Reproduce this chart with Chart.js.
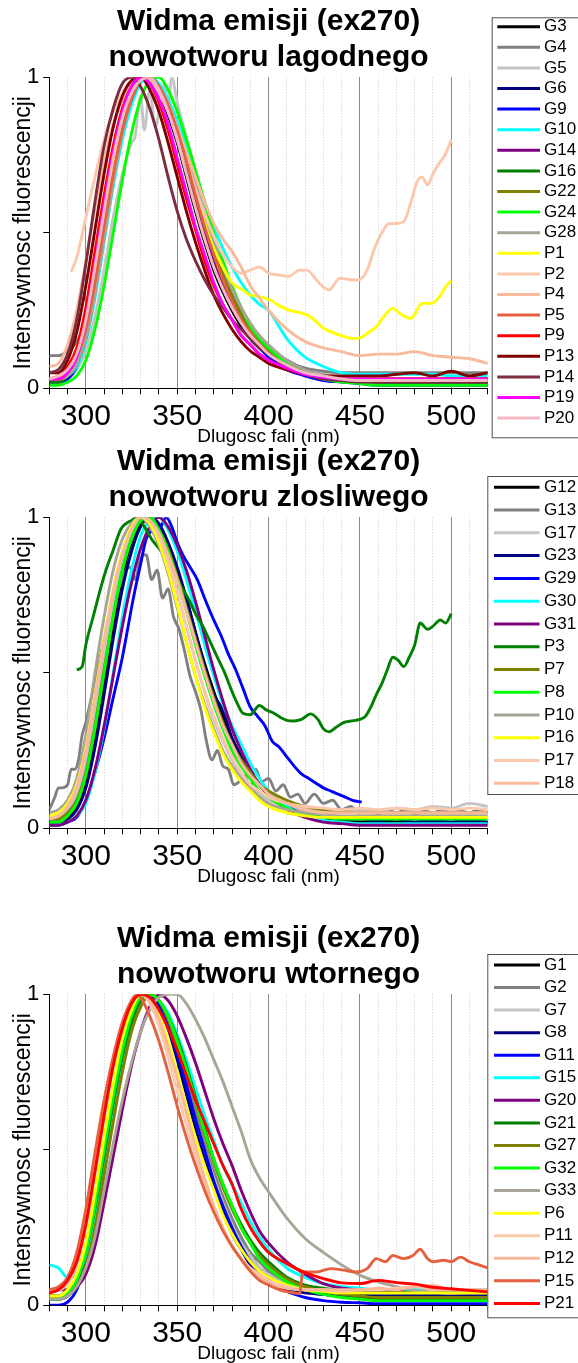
<!DOCTYPE html>
<html>
<head>
<meta charset="utf-8">
<title>Widma emisji (ex270)</title>
<script src="https://cdn.jsdelivr.net/npm/chart.js@4.4.0/dist/chart.umd.min.js"></script>
<style>
html, body { margin: 0; padding: 0; background: #fff; overflow: hidden; }
#wrap { position: relative; width: 578px; height: 1363px; }
canvas { position: absolute; left: 0; }
</style>
</head>
<body>
<div id="wrap">
  <canvas id="c1" width="578" height="450" style="top:0px"></canvas>
  <canvas id="c2" width="578" height="450" style="top:440px"></canvas>
  <canvas id="c3" width="578" height="450" style="top:917px"></canvas>
</div>
<script>
const FONT = '"Liberation Sans", Arial, Helvetica, sans-serif';

// shared wavelength grid (nm)
const fale = [280,285,290,295,300,305,310,315,320,325,330,335,340,345,350,355,360,365,370,375,380,385,390,395,400,410,420,430,440,450,460,470,480,490,500,510,520];

// ---- panel 1: nowotwor lagodny ----
const nazwy1 = ['G3','G4','G5','G6','G9','G10','G14','G16','G22','G24','G28','P1','P2','P4','P5','P9','P13','P14','P19','P20'];
const kolory1 = ['#000000','#808080','#c4c4c4','#000080','#0000ff','#00ffff','#800080','#008000','#808000','#00ff00','#a8a596','#ffff00','#fcc8ac','#f9b99b','#e5603f','#ff0000','#800000','#7b2d3f','#ff00ff','#f4b8c4'];
const g3  = [.03,.03,.05,.10,.20,.36,.54,.71,.85,.95,1.0,.99,.95,.88,.79,.68,.57,.47,.38,.31,.25,.20,.16,.13,.11,.07,.05,.035,.03,.025,.02,.02,.02,.02,.02,.02,.02];
const g4  = [.105,.105,.12,.15,.22,.36,.53,.70,.84,.94,.99,1.0,.96,.89,.80,.70,.59,.49,.40,.32,.26,.21,.17,.14,.12,.085,.065,.055,.05,.05,.05,.05,.05,.05,.05,.05,.05];
const g5x = [280,285,290,295,300,305,310,315,320,325,327,330,332,335,338,341,343,345,347,350,355,360,365,370,375,380,385,390,395,400,410,420,430,440,450,460,470,480,490,500,510,520];
const g5y = [.02,.02,.03,.06,.12,.23,.38,.55,.69,.79,.81,.94,.83,.96,.84,.93,.98,.90,1.0,.92,.81,.70,.59,.48,.39,.31,.24,.19,.15,.12,.08,.055,.04,.035,.03,.03,.03,.03,.03,.03,.03,.03];
const g6  = [.02,.02,.04,.08,.17,.32,.51,.69,.84,.94,.99,1.0,.96,.90,.82,.72,.61,.51,.42,.34,.28,.25,.20,.16,.13,.09,.06,.04,.03,.025,.02,.02,.02,.02,.02,.02,.02];
const g9  = [.02,.02,.03,.07,.16,.31,.50,.68,.83,.93,.99,1.0,.96,.89,.80,.70,.59,.49,.40,.32,.26,.21,.16,.13,.10,.06,.04,.025,.02,.015,.01,.01,.01,.01,.01,.01,.01];
const g10 = [.03,.03,.04,.07,.15,.29,.47,.65,.80,.91,.98,1.0,.98,.93,.86,.78,.69,.60,.52,.45,.39,.34,.30,.27,.25,.16,.10,.07,.05,.045,.045,.045,.045,.045,.04,.04,.04];
const g14 = [.03,.03,.05,.09,.18,.34,.52,.70,.84,.94,.99,1.0,.96,.89,.81,.71,.60,.50,.41,.33,.27,.22,.17,.14,.11,.075,.05,.035,.03,.025,.02,.02,.02,.02,.02,.02,.02];
const g16 = [.02,.02,.04,.08,.16,.31,.50,.68,.83,.93,.99,1.0,.97,.91,.83,.73,.62,.52,.43,.35,.29,.24,.19,.15,.12,.08,.055,.04,.03,.025,.02,.02,.02,.02,.02,.02,.02];
const g22 = [.03,.03,.04,.08,.17,.32,.50,.68,.83,.93,.99,1.0,.97,.91,.83,.74,.64,.54,.45,.37,.30,.24,.19,.15,.12,.08,.055,.04,.03,.03,.03,.03,.03,.03,.03,.03,.03];
const g24 = [.01,.01,.02,.04,.09,.19,.33,.50,.67,.82,.93,.99,1.0,.96,.89,.80,.70,.60,.50,.41,.33,.26,.20,.16,.13,.08,.05,.03,.02,.015,.01,.01,.01,.01,.01,.01,.01];
const g28 = [.03,.03,.04,.08,.16,.30,.48,.66,.82,.93,.99,1.0,.97,.92,.84,.75,.66,.56,.47,.39,.32,.26,.21,.17,.14,.09,.06,.045,.035,.03,.03,.03,.03,.03,.03,.03,.03];
const p1x = [283,285,290,295,300,305,310,315,320,325,330,335,340,345,350,355,360,365,370,375,380,386,390,395,401,406,412,416,421,426,430,435,439,446,450,454,459,463,468,472,478,484,489,493,497,500];
const p1y = [.04,.04,.06,.11,.21,.37,.56,.73,.87,.96,1.0,.99,.96,.90,.82,.73,.63,.53,.45,.39,.34,.316,.30,.295,.284,.265,.25,.245,.236,.215,.193,.18,.171,.16,.162,.177,.198,.23,.257,.24,.225,.273,.273,.29,.327,.346];
const p2x = [292,295,300,305,310,315,320,325,330,335,340,345,350,355,360,365,370,375,380,385,390,395,400,405,411,417,421,426,430,433,439,444,449,454,458,462,466,470,474,478,481,484,487,490,493,497,500];
const p2y = [.375,.42,.55,.68,.80,.89,.95,.99,1.0,.99,.95,.89,.81,.73,.64,.56,.49,.43,.39,.37,.38,.39,.37,.365,.36,.38,.38,.35,.325,.316,.354,.35,.348,.38,.45,.50,.53,.53,.536,.60,.66,.68,.654,.69,.72,.755,.80];
const p4  = [.07,.08,.14,.25,.41,.58,.73,.85,.93,.98,1.0,.99,.96,.91,.84,.76,.68,.60,.53,.48,.44,.39,.33,.29,.25,.19,.15,.13,.118,.105,.11,.11,.118,.105,.10,.095,.08];
const p5  = [.03,.03,.05,.10,.19,.34,.52,.69,.83,.93,.99,1.0,.97,.91,.83,.73,.62,.52,.43,.35,.28,.22,.18,.14,.11,.075,.05,.035,.03,.025,.025,.025,.025,.025,.025,.025,.025];
const p9  = [.03,.04,.07,.13,.26,.44,.62,.78,.90,.97,1.0,.98,.92,.83,.72,.61,.51,.41,.33,.27,.22,.17,.14,.11,.09,.06,.045,.035,.03,.03,.03,.03,.03,.03,.03,.03,.03];
const p13 = [.05,.05,.09,.18,.33,.51,.69,.84,.94,.99,1.0,.96,.89,.79,.68,.57,.47,.38,.30,.24,.19,.15,.12,.10,.08,.06,.045,.04,.04,.04,.04,.045,.05,.04,.055,.04,.05];
const p14 = [.05,.06,.11,.22,.40,.60,.78,.90,.98,1.0,.97,.90,.80,.68,.57,.48,.41,.35,.30,.26,.22,.19,.16,.13,.11,.07,.045,.03,.025,.02,.02,.02,.02,.02,.02,.02,.02];
const p19 = [.03,.03,.05,.10,.22,.40,.59,.76,.89,.97,1.0,.98,.93,.85,.74,.63,.52,.43,.34,.27,.22,.17,.14,.11,.09,.065,.045,.035,.03,.03,.03,.03,.03,.03,.03,.03,.03];
const p20 = [.03,.04,.06,.11,.22,.39,.57,.74,.87,.95,.99,1.0,.96,.89,.80,.69,.58,.48,.39,.32,.26,.21,.17,.14,.11,.075,.05,.04,.03,.025,.025,.025,.025,.025,.025,.025,.025];

// ---- panel 2: nowotwor zlosliwy ----
const nazwy2 = ['G12','G13','G17','G23','G29','G30','G31','P3','P7','P8','P10','P16','P17','P18'];
const kolory2 = ['#000000','#808080','#c4c4c4','#000080','#0000ff','#00ffff','#800080','#008000','#808000','#00ff00','#a8a596','#ffff00','#fcc8ac','#f9b99b'];
const g12 = [.02,.02,.03,.07,.15,.29,.47,.65,.81,.92,.98,1.0,.97,.91,.83,.74,.63,.53,.44,.36,.29,.23,.18,.14,.11,.07,.045,.03,.025,.02,.02,.02,.02,.02,.02,.02,.02];
const g13x = [280,283,285,287,290,292,294,296,298,300,303,306,309,312,315,318,321,324,327,330,333,336,339,342,345,348,351,354,357,360,363,366,369,372,375,378,381,384,387,390,393,396,400,404,408,412,416,420,425,430,435,440,445,450,455,460,465,470,475,480,485,490,495,500,505,510,515,520];
const g13y = [.06,.10,.13,.13,.14,.19,.19,.22,.30,.34,.42,.50,.58,.66,.72,.77,.82,.84,.80,.87,.88,.80,.83,.74,.77,.68,.64,.57,.49,.44,.38,.28,.22,.25,.20,.19,.14,.15,.17,.13,.19,.15,.16,.12,.14,.10,.11,.08,.11,.08,.09,.06,.07,.05,.06,.045,.06,.05,.06,.045,.055,.05,.06,.05,.055,.05,.06,.05];
const g17 = [.04,.04,.06,.11,.21,.37,.55,.72,.86,.95,1.0,.99,.94,.86,.76,.65,.54,.44,.35,.28,.22,.17,.13,.11,.09,.07,.06,.06,.055,.06,.055,.065,.06,.07,.065,.08,.07];
const g23 = [.02,.02,.03,.06,.13,.26,.43,.61,.77,.89,.97,1.0,.98,.92,.84,.74,.63,.52,.43,.38,.29,.23,.18,.14,.11,.07,.045,.035,.03,.03,.025,.03,.02,.025,.02,.025,.02];
const g29x = [281,285,290,295,300,305,310,315,320,326,330,333,337,341,344,347,350,353,357,361,365,370,374,378,382,386,390,394,398,402,406,410,414,418,422,426,430,434,438,442,446,451];
const g29y = [.01,.01,.02,.035,.09,.18,.29,.42,.55,.74,.85,.93,.96,.97,1.0,.97,.92,.88,.84,.80,.74,.67,.62,.56,.51,.45,.39,.36,.33,.28,.26,.23,.20,.175,.16,.145,.13,.12,.11,.10,.09,.084];
const g30 = [.01,.01,.02,.04,.08,.18,.32,.50,.68,.83,.94,.99,1.0,.96,.89,.80,.70,.59,.49,.40,.33,.27,.21,.16,.12,.07,.04,.025,.02,.015,.015,.015,.015,.015,.015,.015,.015];
const g31 = [.01,.01,.02,.04,.09,.19,.33,.49,.65,.79,.90,.97,1.0,.97,.91,.83,.73,.62,.51,.41,.32,.25,.19,.14,.11,.06,.035,.02,.015,.01,.01,.01,.01,.01,.01,.01,.01];
const p3x = [295,298,300,304,308,311,315,319,322,325,328,332,336,340,344,348,352,356,360,364,368,372,376,380,383,386,390,395,399,403,407,410,414,418,423,427,430,433,437,441,445,450,453,456,459,462,465,468,471,474,477,480,483,487,490,494,497,500];
const p3y = [.51,.52,.59,.68,.77,.83,.895,.96,.98,.99,1.0,.97,.93,.90,.87,.83,.78,.74,.69,.65,.60,.55,.50,.44,.40,.37,.365,.395,.38,.37,.355,.347,.345,.35,.368,.35,.32,.31,.325,.34,.345,.35,.36,.39,.43,.465,.51,.55,.54,.52,.55,.59,.66,.64,.65,.67,.66,.69];
const p7  = [.03,.03,.05,.09,.18,.33,.51,.68,.83,.93,.99,1.0,.96,.90,.81,.71,.61,.51,.42,.34,.27,.22,.18,.14,.12,.09,.07,.06,.055,.05,.05,.05,.05,.05,.05,.05,.05];
const p8  = [.02,.02,.04,.08,.17,.32,.50,.68,.83,.93,.99,1.0,.96,.89,.80,.70,.59,.49,.40,.32,.25,.20,.16,.12,.10,.065,.045,.035,.03,.03,.03,.03,.03,.03,.03,.03,.03];
const p10 = [.05,.06,.09,.16,.30,.50,.68,.83,.93,.98,1.0,.97,.91,.82,.71,.60,.49,.40,.32,.25,.20,.16,.13,.10,.08,.06,.05,.045,.04,.04,.04,.04,.04,.04,.04,.04,.04];
const p16 = [.04,.05,.08,.14,.26,.43,.61,.77,.89,.97,1.0,.98,.92,.83,.72,.60,.49,.39,.31,.24,.19,.15,.12,.09,.07,.05,.04,.035,.035,.035,.035,.035,.035,.035,.035,.035,.035];
const p17 = [.03,.04,.07,.13,.25,.42,.60,.76,.88,.96,1.0,.99,.94,.86,.76,.65,.54,.44,.36,.29,.23,.18,.14,.12,.10,.08,.07,.065,.06,.065,.06,.065,.06,.065,.06,.065,.06];
const p18 = [.03,.04,.07,.13,.25,.42,.60,.76,.88,.96,1.0,.99,.95,.88,.80,.70,.60,.50,.41,.33,.27,.21,.17,.14,.11,.08,.06,.05,.05,.05,.05,.05,.05,.05,.05,.05,.05];

// ---- panel 3: nowotwor wtorny ----
const nazwy3 = ['G1','G2','G7','G8','G11','G15','G20','G21','G27','G32','G33','P6','P11','P12','P15','P21'];
const kolory3 = ['#000000','#808080','#c4c4c4','#000080','#0000ff','#00ffff','#800080','#008000','#808000','#00ff00','#a8a596','#ffff00','#fcc8ac','#f9b99b','#e5603f','#ff0000'];
const g1  = [.02,.02,.03,.07,.16,.30,.48,.66,.81,.92,.98,1.0,.97,.90,.81,.71,.61,.51,.41,.33,.26,.20,.16,.12,.10,.065,.045,.035,.03,.025,.02,.02,.02,.02,.02,.02,.02];
const g2  = [.03,.03,.04,.07,.15,.28,.45,.63,.79,.91,.98,1.0,.97,.91,.82,.72,.62,.52,.43,.35,.28,.22,.17,.14,.11,.075,.055,.045,.04,.035,.03,.03,.03,.03,.03,.03,.03];
const g7  = [.02,.02,.03,.06,.13,.25,.42,.60,.76,.89,.96,1.0,.98,.91,.82,.71,.60,.50,.41,.33,.26,.20,.16,.12,.10,.065,.045,.035,.03,.03,.03,.03,.03,.03,.03,.03,.03];
const g8  = [.02,.02,.03,.07,.16,.30,.48,.66,.81,.92,.98,1.0,.96,.89,.79,.68,.57,.47,.38,.30,.23,.18,.13,.10,.08,.05,.04,.035,.03,.03,.03,.03,.03,.03,.03,.03,.03];
const g11 = [.00,.00,.01,.05,.14,.28,.45,.63,.79,.91,.98,1.0,.97,.90,.81,.71,.60,.50,.40,.32,.25,.19,.14,.10,.08,.045,.025,.015,.01,.008,.005,.005,.005,.005,.005,.005,.005];
const g15 = [.13,.12,.09,.10,.16,.28,.45,.63,.79,.90,.97,1.0,.98,.94,.87,.79,.70,.61,.53,.45,.39,.33,.27,.22,.18,.12,.09,.07,.06,.055,.05,.05,.05,.05,.05,.05,.05];
const g20 = [.04,.05,.05,.06,.10,.19,.33,.48,.63,.77,.88,.96,1.0,.98,.93,.86,.78,.69,.60,.52,.45,.37,.30,.24,.20,.14,.10,.07,.055,.05,.045,.045,.04,.04,.04,.04,.04];
const g21 = [.03,.03,.05,.09,.17,.31,.48,.65,.80,.91,.98,1.0,.98,.93,.86,.77,.67,.57,.47,.39,.32,.26,.21,.17,.14,.09,.065,.055,.045,.04,.04,.04,.04,.04,.04,.04,.04];
const g27 = [.02,.02,.03,.06,.13,.25,.42,.59,.75,.88,.96,1.0,.98,.92,.84,.75,.65,.55,.46,.38,.31,.25,.20,.16,.13,.085,.06,.045,.035,.03,.025,.025,.025,.025,.025,.025,.025];
const g32 = [.02,.02,.04,.08,.17,.32,.50,.67,.82,.93,.99,1.0,.98,.93,.85,.76,.66,.56,.47,.39,.32,.25,.20,.15,.12,.075,.05,.035,.025,.02,.015,.015,.015,.015,.015,.015,.015];
const g33 = [.02,.02,.03,.06,.12,.22,.37,.52,.66,.78,.88,.95,.99,1.0,1.0,.97,.92,.86,.79,.72,.64,.56,.47,.41,.365,.28,.215,.17,.13,.097,.075,.06,.048,.042,.038,.04,.04];
const p6  = [.03,.03,.05,.10,.20,.36,.54,.71,.86,.95,1.0,.98,.93,.85,.75,.64,.54,.45,.37,.29,.23,.18,.14,.11,.09,.065,.05,.045,.04,.04,.04,.04,.04,.04,.04,.04,.04];
const p11 = [.04,.05,.07,.13,.25,.42,.60,.77,.89,.97,1.0,.97,.90,.80,.69,.58,.48,.39,.31,.24,.19,.15,.12,.10,.08,.06,.05,.05,.045,.05,.05,.055,.06,.065,.05,.05,.05];
const p12 = [.05,.05,.07,.13,.26,.44,.62,.78,.90,.97,1.0,.98,.92,.83,.73,.62,.51,.41,.32,.25,.19,.15,.11,.09,.07,.055,.05,.05,.05,.05,.055,.05,.06,.05,.05,.05,.05];
const p15x = [280,285,290,295,300,305,310,315,320,325,328,331,335,340,345,350,355,360,365,370,375,380,386,390,395,400,406,412,417,418.5,420,426,434,441,448,454,459,464,468,474,479,483,487,490,496,500,505,510,515,520];
const p15y = [.05,.06,.09,.17,.31,.49,.66,.80,.91,.98,1.0,.98,.93,.85,.75,.64,.54,.45,.37,.30,.24,.19,.14,.11,.08,.065,.05,.042,.038,.10,.107,.107,.118,.113,.107,.118,.15,.14,.16,.15,.16,.18,.15,.14,.145,.14,.155,.14,.13,.12];
const p21 = [.04,.05,.08,.14,.26,.43,.61,.77,.89,.97,1.0,.99,.95,.89,.82,.74,.66,.59,.52,.45,.39,.31,.25,.205,.17,.134,.105,.086,.072,.07,.08,.073,.068,.058,.053,.048,.043];

const tytul1 = ['Widma emisji (ex270)', 'nowotworu lagodnego'];
const tytul2 = ['Widma emisji (ex270)', 'nowotworu zlosliwego'];
const tytul3 = ['Widma emisji (ex270)', 'nowotworu wtornego'];

function punkty(xs, ys) {
    return xs.map((x, i) => ({ x: x, y: ys[i] }));
}

const serie1 = [punkty(fale, g3), punkty(fale, g4), punkty(g5x, g5y), punkty(fale, g6), punkty(fale, g9), punkty(fale, g10),
    punkty(fale, g14), punkty(fale, g16), punkty(fale, g22), punkty(fale, g24), punkty(fale, g28), punkty(p1x, p1y),
    punkty(p2x, p2y), punkty(fale, p4), punkty(fale, p5), punkty(fale, p9), punkty(fale, p13), punkty(fale, p14),
    punkty(fale, p19), punkty(fale, p20)];
const serie2 = [punkty(fale, g12), punkty(g13x, g13y), punkty(fale, g17), punkty(fale, g23), punkty(g29x, g29y),
    punkty(fale, g30), punkty(fale, g31), punkty(p3x, p3y), punkty(fale, p7), punkty(fale, p8), punkty(fale, p10),
    punkty(fale, p16), punkty(fale, p17), punkty(fale, p18)];
const serie3 = [punkty(fale, g1), punkty(fale, g2), punkty(fale, g7), punkty(fale, g8), punkty(fale, g11), punkty(fale, g15),
    punkty(fale, g20), punkty(fale, g21), punkty(fale, g27), punkty(fale, g32), punkty(fale, g33), punkty(fale, p6),
    punkty(fale, p11), punkty(fale, p12), punkty(p15x, p15y), punkty(fale, p21)];

// boxed legend on the right, drawn after the chart
function legenda(cfg) {
    return {
        id: 'legenda',
        afterDraw(chart) {
            const ctx = chart.ctx;
            ctx.save();
            ctx.fillStyle = '#fff';
            ctx.fillRect(cfg.x, cfg.y, 200, cfg.h);
            ctx.strokeStyle = '#505050';
            ctx.lineWidth = 1;
            ctx.strokeRect(cfg.x + 0.5, cfg.y + 0.5, 200, cfg.h);
            ctx.font = '17px ' + FONT;
            ctx.textBaseline = 'middle';
            chart.data.datasets.forEach((ds, i) => {
                const y = cfg.first + i * cfg.step;
                ctx.strokeStyle = ds.borderColor;
                ctx.lineWidth = 3;
                ctx.beginPath();
                ctx.moveTo(cfg.x1, y);
                ctx.lineTo(cfg.x2, y);
                ctx.stroke();
                ctx.fillStyle = '#000';
                ctx.fillText(ds.label, cfg.tx, y);
            });
            ctx.restore();
        }
    };
}

function rysuj(id, tytul, nazwy, kolory, serie, leg) {
    const n = serie.length;
    return new Chart(document.getElementById(id), {
        type: 'line',
        data: {
            datasets: serie.map((s, i) => ({
                label: nazwy[i],
                data: s,
                borderColor: kolory[i],
                borderWidth: 2.9,
                pointRadius: 0,
                fill: false,
                cubicInterpolationMode: 'monotone',
                order: n - i
            }))
        },
        options: {
            responsive: false,
            animation: false,
            events: [],
            layout: { padding: { left: 0, right: 90.2, top: 0, bottom: 0 } },
            plugins: {
                legend: { display: false },
                tooltip: { enabled: false },
                title: {
                    display: true, text: tytul, fullSize: false, color: '#000',
                    font: { family: FONT, size: 30, weight: 'bold', lineHeight: 1.217 },
                    padding: { top: 3, bottom: 1.3 }
                }
            },
            scales: {
                x: {
                    type: 'linear', min: 280, max: 520,
                    ticks: {
                        stepSize: 10, autoSkip: false, maxRotation: 0, padding: 4, color: '#000',
                        font: { family: FONT, size: 30 },
                        callback: v => (v % 50 === 0 ? String(v) : '')
                    },
                    grid: {
                        color: c => (c.tick && c.tick.value > 280 && c.tick.value < 520 && c.tick.value % 50 !== 0) ? '#c8c8c8' : 'rgba(0,0,0,0)',
                        tickColor: '#000', tickLength: 6, lineWidth: 1
                    },
                    border: { display: true, color: '#000', width: 1, dash: [1, 2] },
                    title: {
                        display: true, text: 'Dlugosc fali (nm)', color: '#000',
                        font: { family: FONT, size: 19 }, padding: { top: 0, bottom: 1.6 }
                    },
                    afterFit: s => { s.height = 61.7; }
                },
                xMaj: {
                    type: 'linear', position: 'top', min: 280, max: 520,
                    ticks: { display: false, stepSize: 50 },
                    grid: {
                        color: c => (c.tick && c.tick.value % 50 === 0) ? '#8c8c8c' : 'rgba(0,0,0,0)',
                        drawTicks: false
                    },
                    border: { display: false },
                    afterFit: s => { s.height = 0; }
                },
                y: {
                    type: 'linear', min: 0, max: 1,
                    ticks: {
                        stepSize: 0.5, padding: 4, color: '#000',
                        font: { family: FONT, size: 22 },
                        callback: v => (v === 0.5 ? '' : String(v))
                    },
                    grid: { drawOnChartArea: false, tickColor: '#000', tickLength: 6 },
                    border: { color: '#000', width: 1 },
                    title: {
                        display: true, text: 'Intensywnosc fluorescencji', color: '#000',
                        font: { family: FONT, size: 23 }, padding: { top: 10, bottom: 0 }
                    },
                    afterFit: s => { s.width = 49.3; }
                }
            }
        },
        plugins: [legenda(leg)]
    });
}

rysuj('c1', tytul1, nazwy1, kolory1, serie1,
    { x: 491.7, y: 17.3, h: 420, first: 26.7, step: 20.6, x1: 497.3, x2: 540, tx: 544 });
rysuj('c2', tytul2, nazwy2, kolory2, serie2,
    { x: 487.3, y: 36, h: 318, first: 47.3, step: 22.77, x1: 494, x2: 539.5, tx: 544 });
rysuj('c3', tytul3, nazwy3, kolory3, serie3,
    { x: 487.3, y: 37, h: 363.3, first: 48, step: 22.56, x1: 494, x2: 540, tx: 544 });
</script>
</body>
</html>
